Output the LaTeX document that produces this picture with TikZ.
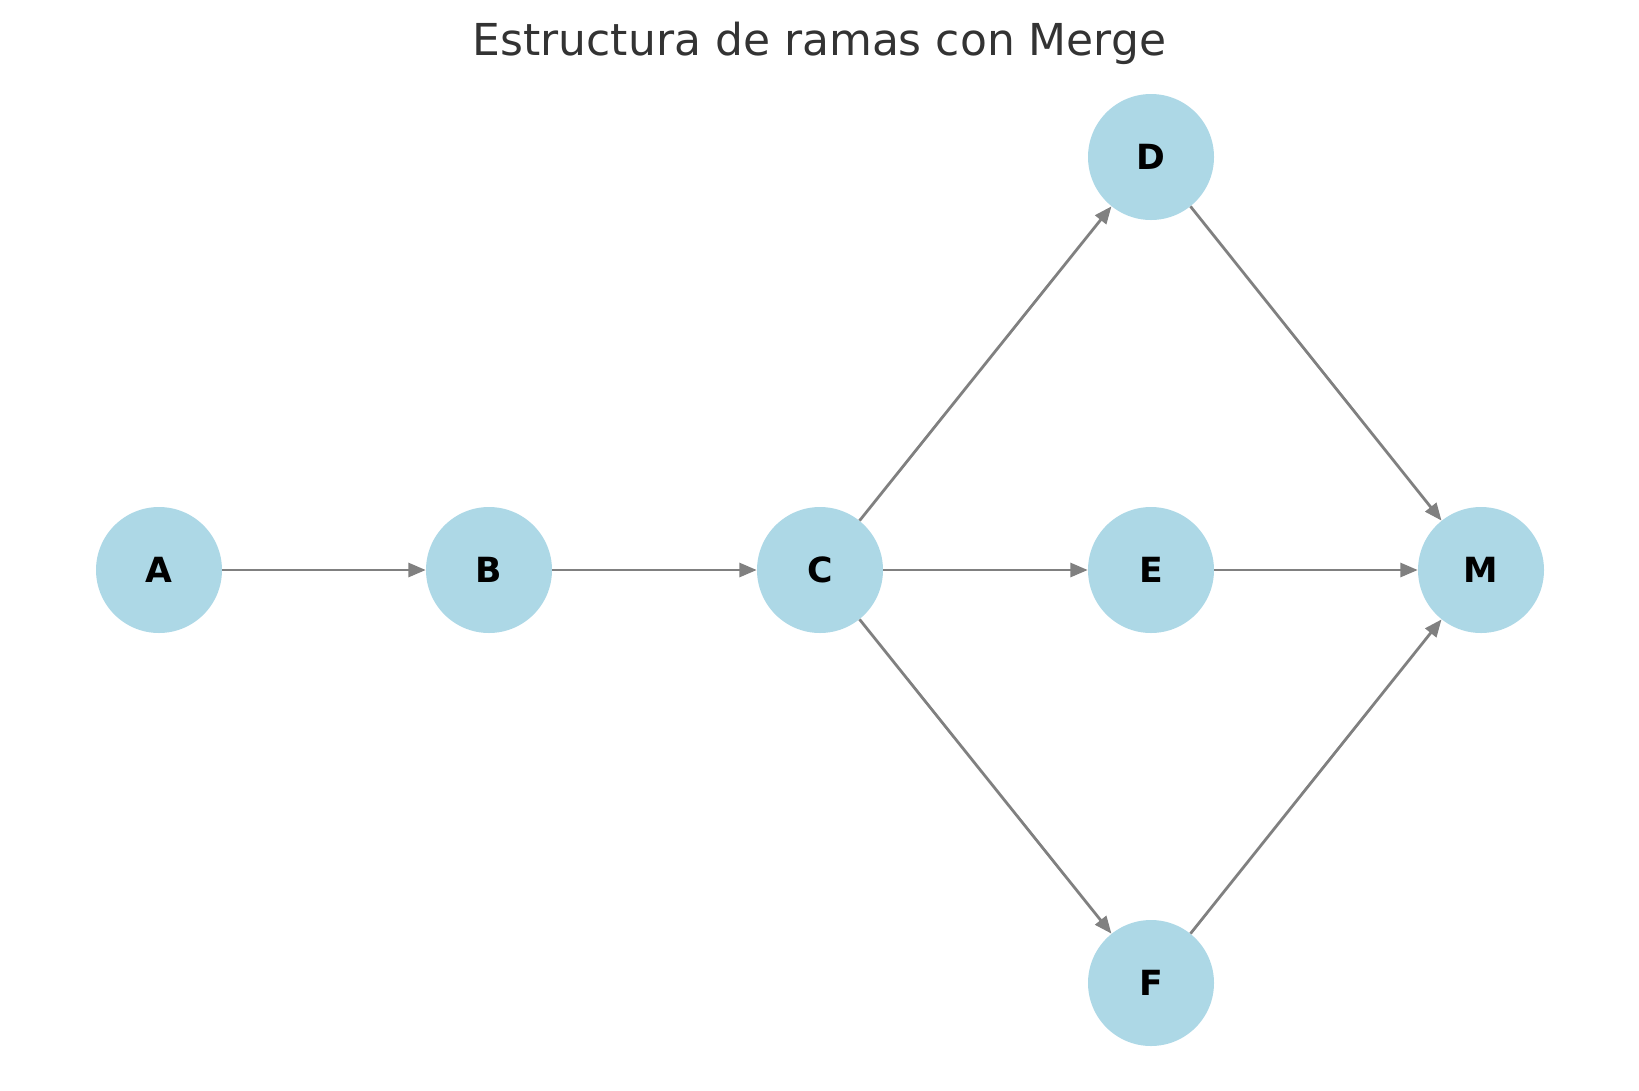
\documentclass[tikz,border=0pt]{standalone}
\usepackage{fontspec}
\setmainfont{DejaVu Sans}
\usetikzlibrary{arrows.meta}
\definecolor{nodeblue}{RGB}{173,216,230}
\definecolor{edgegray}{RGB}{128,128,128}
\definecolor{titlegray}{RGB}{51,51,51}
\tikzset{
  vert/.style={circle, fill=nodeblue, minimum size=94.5pt, inner sep=0pt,
    font=\fontsize{26}{26}\selectfont\bfseries},
  edge/.style={-{Triangle[length=13pt,width=10.5pt]}, draw=edgegray, fill=edgegray, line width=2.1pt}
}
\begin{document}
\begin{tikzpicture}[x=0.75pt,y=-0.75pt]
    \useasboundingbox (0,0) rectangle (1639,1090);
    \node[text=titlegray, font=\fontsize{33}{33}\selectfont] (T) at (819.5,43) {Estructura de ramas con Merge};
    \node[vert] (A) at (159,570) {A};
    \node[vert] (B) at (489,570) {B};
    \node[vert] (C) at (820,570) {C};
    \node[vert] (D) at (1151,157) {D};
    \node[vert] (E) at (1151,570) {E};
    \node[vert] (F) at (1151,983) {F};
    \node[vert] (M) at (1481,570) {M};
    \draw[edge] (A) -- (B);
    \draw[edge] (B) -- (C);
    \draw[edge] (C) -- (D);
    \draw[edge] (C) -- (E);
    \draw[edge] (C) -- (F);
    \draw[edge] (D) -- (M);
    \draw[edge] (E) -- (M);
    \draw[edge] (F) -- (M);
\end{tikzpicture}
\end{document}
